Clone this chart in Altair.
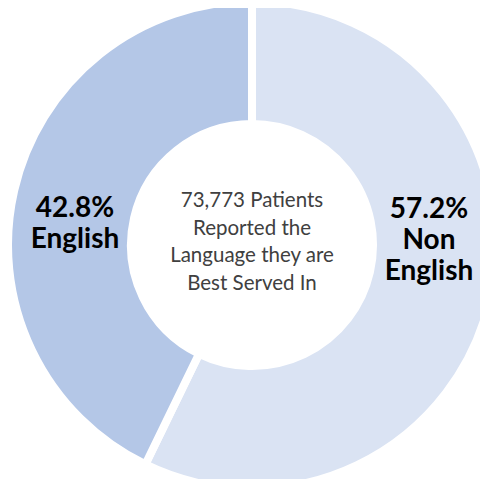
import altair as alt
import pandas as pd

categories = ["Non English", "English"]
values = [57.2, 42.8]
colors = ["#dae3f3", "#b4c7e7"]
center_lines = ["73,773 Patients", "Reported the", "Language they are", "Best Served In"]
english_label = ["42.8%", "English"]
non_english_label = ["57.2%", "Non", "English"]

df = pd.DataFrame({"category": categories, "value": values, "order": list(range(len(categories)))})

W, H = 472, 471
CX, CY = 244, 237
FONT = "Lato"

arc = alt.Chart(df).mark_arc(
    outerRadius=244, innerRadius=121, stroke="white", strokeWidth=8
).encode(
    x=alt.value(CX), y=alt.value(CY),
    theta=alt.Theta("value:Q", stack=True),
    color=alt.Color("category:N", sort=categories,
                    scale=alt.Scale(domain=categories, range=colors), legend=None),
    order=alt.Order("order:Q"),
)

def text_layer(lines, x, y, size, weight, color, lh):
    return alt.Chart(pd.DataFrame({"t": [lines]})).mark_text(
        font=FONT, fontSize=size, fontWeight=weight, color=color,
        align="center", baseline="alphabetic", lineHeight=lh
    ).encode(x=alt.value(x), y=alt.value(y), text="t")

center = text_layer(center_lines, 244, 199, 20.5, "normal", "#404040", 27.7)
eng = text_layer(english_label, 67, 209, 28, "bold", "#000000", 31)
non = text_layer(non_english_label, 421, 210, 28, "bold", "#000000", 31)

chart = alt.layer(arc, center, eng, non).properties(
    width=W, height=H, padding=0, autosize=alt.AutoSizeParams(type="none")
).configure_view(stroke=None)

chart.save("out.html", embed_options={"renderer": "svg", "actions": False})
